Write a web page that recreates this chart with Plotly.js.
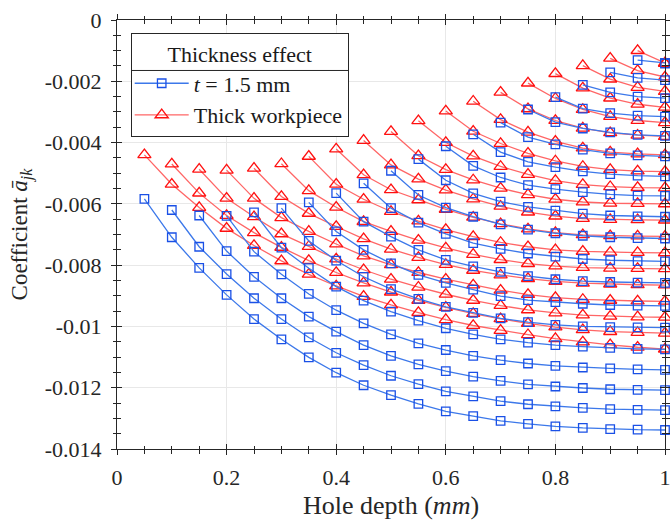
<!DOCTYPE html>
<html><head><meta charset="utf-8">
<script src="https://cdn.plot.ly/plotly-3.0.1.min.js"></script>
<style>html,body{margin:0;padding:0;background:#fff}#chart{width:670px;height:520px}</style>
</head><body><div id="chart"></div>
<script>
// Hole depth steps (mm)
const depth = [0.05,0.10,0.15,0.20,0.25,0.30,0.35,0.40,0.45,0.50,0.55,0.60,0.65,0.70,0.75,0.80,0.85,0.90,0.95,1.00];

// t = 1.5 mm  (curve k starts at depth step k)
const blue01 = [-0.00584,-0.00709,-0.00809,-0.00897,-0.00976,-0.01042,-0.01101,-0.01151,-0.01192,-0.01224,-0.01253,-0.01277,-0.01293,-0.01308,-0.01318,-0.01326,-0.01331,-0.01335,-0.01337,-0.01338];
const blue02 = [-0.00620,-0.00740,-0.00829,-0.00908,-0.00976,-0.01036,-0.01086,-0.01126,-0.01161,-0.01188,-0.01212,-0.01228,-0.01244,-0.01254,-0.01261,-0.01266,-0.01270,-0.01272,-0.01273];
const blue03 = [-0.00638,-0.00754,-0.00838,-0.00908,-0.00968,-0.01017,-0.01061,-0.01096,-0.01124,-0.01146,-0.01164,-0.01178,-0.01189,-0.01196,-0.01201,-0.01205,-0.01207,-0.01208];
const blue04 = [-0.00639,-0.00756,-0.00830,-0.00894,-0.00947,-0.00990,-0.01026,-0.01055,-0.01077,-0.01096,-0.01110,-0.01121,-0.01129,-0.01134,-0.01137,-0.01140,-0.01142];
const blue05 = [-0.00628,-0.00743,-0.00810,-0.00870,-0.00916,-0.00952,-0.00981,-0.01006,-0.01026,-0.01042,-0.01053,-0.01061,-0.01066,-0.01070,-0.01073,-0.01075];
const blue06 = [-0.00614,-0.00721,-0.00785,-0.00838,-0.00878,-0.00910,-0.00936,-0.00956,-0.00974,-0.00986,-0.00995,-0.01000,-0.01002,-0.01003,-0.01004];
const blue07 = [-0.00595,-0.00690,-0.00750,-0.00794,-0.00832,-0.00858,-0.00880,-0.00901,-0.00914,-0.00921,-0.00926,-0.00930,-0.00932,-0.00933];
const blue08 = [-0.00565,-0.00658,-0.00707,-0.00750,-0.00783,-0.00804,-0.00822,-0.00836,-0.00846,-0.00852,-0.00855,-0.00857,-0.00858];
const blue09 = [-0.00533,-0.00614,-0.00661,-0.00698,-0.00728,-0.00747,-0.00762,-0.00772,-0.00780,-0.00784,-0.00787,-0.00788];
const blue10 = [-0.00492,-0.00571,-0.00612,-0.00642,-0.00667,-0.00684,-0.00696,-0.00704,-0.00709,-0.00712,-0.00713];
const blue11 = [-0.00454,-0.00523,-0.00566,-0.00593,-0.00610,-0.00622,-0.00632,-0.00638,-0.00641,-0.00642];
const blue12 = [-0.00412,-0.00476,-0.00514,-0.00539,-0.00552,-0.00562,-0.00569,-0.00573,-0.00574];
const blue13 = [-0.00373,-0.00431,-0.00463,-0.00480,-0.00494,-0.00503,-0.00508,-0.00510];
const blue14 = [-0.00335,-0.00382,-0.00406,-0.00423,-0.00435,-0.00442,-0.00445];
const blue15 = [-0.00292,-0.00333,-0.00354,-0.00367,-0.00375,-0.00378];
const blue16 = [-0.00252,-0.00289,-0.00304,-0.00312,-0.00315];
const blue17 = [-0.00212,-0.00236,-0.00250,-0.00255];
const blue18 = [-0.00171,-0.00189,-0.00196];
const blue19 = [-0.00131,-0.00140];
const blue20 = [-0.00142];

// Thick workpiece
const red01 = [-0.00440,-0.00536,-0.00612,-0.00680,-0.00736,-0.00786,-0.00830,-0.00868,-0.00902,-0.00930,-0.00955,-0.00978,-0.00997,-0.01013,-0.01027,-0.01040,-0.01051,-0.01060,-0.01068,-0.01074];
const red02 = [-0.00470,-0.00565,-0.00638,-0.00694,-0.00742,-0.00785,-0.00824,-0.00858,-0.00888,-0.00915,-0.00938,-0.00958,-0.00975,-0.00990,-0.01002,-0.01011,-0.01017,-0.01020,-0.01022];
const red03 = [-0.00487,-0.00582,-0.00642,-0.00698,-0.00739,-0.00780,-0.00815,-0.00846,-0.00872,-0.00895,-0.00915,-0.00932,-0.00946,-0.00956,-0.00963,-0.00967,-0.00969,-0.00970];
const red04 = [-0.00490,-0.00582,-0.00645,-0.00690,-0.00731,-0.00770,-0.00799,-0.00824,-0.00846,-0.00865,-0.00882,-0.00896,-0.00906,-0.00912,-0.00915,-0.00917,-0.00918];
const red05 = [-0.00484,-0.00576,-0.00631,-0.00674,-0.00714,-0.00748,-0.00775,-0.00798,-0.00817,-0.00832,-0.00844,-0.00853,-0.00859,-0.00862,-0.00864,-0.00865];
const red06 = [-0.00469,-0.00557,-0.00611,-0.00658,-0.00690,-0.00719,-0.00744,-0.00765,-0.00782,-0.00795,-0.00803,-0.00808,-0.00810,-0.00811,-0.00812];
const red07 = [-0.00445,-0.00536,-0.00585,-0.00625,-0.00656,-0.00684,-0.00707,-0.00726,-0.00740,-0.00750,-0.00755,-0.00758,-0.00759,-0.00760];
const red08 = [-0.00421,-0.00505,-0.00554,-0.00587,-0.00618,-0.00644,-0.00665,-0.00682,-0.00694,-0.00701,-0.00704,-0.00705,-0.00706];
const red09 = [-0.00393,-0.00473,-0.00519,-0.00555,-0.00584,-0.00608,-0.00627,-0.00640,-0.00648,-0.00651,-0.00652,-0.00653];
const red10 = [-0.00364,-0.00443,-0.00488,-0.00522,-0.00549,-0.00570,-0.00585,-0.00594,-0.00598,-0.00599,-0.00600];
const red11 = [-0.00329,-0.00400,-0.00444,-0.00478,-0.00504,-0.00524,-0.00537,-0.00544,-0.00547,-0.00548];
const red12 = [-0.00297,-0.00363,-0.00403,-0.00435,-0.00460,-0.00478,-0.00488,-0.00493,-0.00495];
const red13 = [-0.00265,-0.00325,-0.00366,-0.00396,-0.00418,-0.00431,-0.00437,-0.00440];
const red14 = [-0.00236,-0.00290,-0.00328,-0.00353,-0.00368,-0.00376,-0.00380];
const red15 = [-0.00206,-0.00256,-0.00292,-0.00315,-0.00328,-0.00335];
const red16 = [-0.00175,-0.00222,-0.00255,-0.00275,-0.00285];
const red17 = [-0.00149,-0.00193,-0.00220,-0.00233];
const red18 = [-0.00125,-0.00165,-0.00186];
const red19 = [-0.00100,-0.00140];
const red20 = [-0.00142];

const xTickVals = [0, 0.2, 0.4, 0.6, 0.8, 1];
const xTickText = ['0', '0.2', '0.4', '0.6', '0.8', '1'];
const yTickVals = [0, -0.002, -0.004, -0.006, -0.008, -0.01, -0.012, -0.014];
const yTickText = ['0', '-0.002', '-0.004', '-0.006', '-0.008', '-0.01', '-0.012', '-0.014'];

const blueSeries = [blue01,blue02,blue03,blue04,blue05,blue06,blue07,blue08,blue09,blue10,
                    blue11,blue12,blue13,blue14,blue15,blue16,blue17,blue18,blue19,blue20];
const redSeries = [red01,red02,red03,red04,red05,red06,red07,red08,red09,red10,
                   red11,red12,red13,red14,red15,red16,red17,red18,red19,red20];

const FONT = 'Liberation Serif, Times New Roman, serif';
const INK = '#262626';
const BLUE_M = '#1a50e6', BLUE_L = '#3c78ea';
const RED_M = '#ff1010', RED_L = '#ff6666';

const traces = [];
for (let i = 0; i < 20; i++) {
  traces.push({
    type: 'scatter', mode: 'lines+markers',
    x: depth.slice(i), y: redSeries[i],
    name: 'Thick workpiece', legendgroup: 'thick', showlegend: i === 0, legendrank: 2,
    line: {color: RED_L, width: 1.3},
    marker: {symbol: 'triangle-up-open', size: 11.5, color: RED_M, line: {width: 1.3, color: RED_M}},
    cliponaxis: false, hoverinfo: 'skip'
  });
  traces.push({
    type: 'scatter', mode: 'lines+markers',
    x: depth.slice(i), y: blueSeries[i],
    name: '<i>t</i> = 1.5 mm', legendgroup: 'thin', showlegend: i === 0, legendrank: 1,
    line: {color: BLUE_L, width: 1.3},
    marker: {symbol: 'square-open', size: 8.5, color: BLUE_M, line: {width: 1.3, color: BLUE_M}},
    cliponaxis: false, hoverinfo: 'skip'
  });
}
// helper trace for the outer tick axes
traces.push({type: 'scatter', mode: 'markers', x: [null], y: [null], xaxis: 'x2', yaxis: 'y2',
             showlegend: false, hoverinfo: 'skip'});

const axisCommon = {
  showline: true, linecolor: INK, linewidth: 1, mirror: 'ticks',
  ticks: 'inside', ticklen: 5, tickwidth: 1, tickcolor: INK,
  showgrid: true, gridcolor: '#e8e8e8', gridwidth: 1, zeroline: false,
  ticklabeloverflow: 'allow',
  tickfont: {family: FONT, size: 22, color: INK}
};

const layout = {
  width: 670, height: 520,
  margin: {l: 117, r: 5, t: 20, b: 71},
  paper_bgcolor: '#ffffff', plot_bgcolor: '#ffffff',
  showlegend: true,
  xaxis: Object.assign({}, axisCommon, {
    range: [0, 1], tickmode: 'array', tickvals: xTickVals, ticktext: xTickText,
    minor: {dtick: 0.05, tick0: 0, ticks: 'inside', ticklen: 3.5, tickcolor: INK, showgrid: false},
    ticklabelstandoff: 9,
    title: {text: 'Hole depth (<i>mm</i>)', font: {family: FONT, size: 26, color: INK}, standoff: 10}
  }),
  yaxis: Object.assign({}, axisCommon, {
    range: [-0.014, 0], tickmode: 'array', tickvals: yTickVals, ticktext: yTickText,
    minor: {dtick: 0.0005, tick0: 0, ticks: 'inside', ticklen: 3.5, tickcolor: INK, showgrid: false},
    ticklabelstandoff: 10,
    title: {text: 'Coefficient <i>ā</i><sub><i>jk</i></sub>', font: {family: FONT, size: 23, color: INK}, standoff: 10}
  }),
  xaxis2: {overlaying: 'x', anchor: 'y2', range: [0, 1], tickmode: 'array', tickvals: xTickVals,
    showticklabels: false, ticks: 'outside', ticklen: 5, tickcolor: INK, mirror: 'ticks',
    showline: false, showgrid: false, zeroline: false,
    minor: {dtick: 0.05, tick0: 0, ticks: 'outside', ticklen: 3.5, tickcolor: INK, showgrid: false}},
  yaxis2: {overlaying: 'y', anchor: 'x2', range: [-0.014, 0], tickmode: 'array', tickvals: yTickVals,
    showticklabels: false, ticks: 'outside', ticklen: 5, tickcolor: INK, mirror: 'ticks',
    showline: false, showgrid: false, zeroline: false,
    minor: {dtick: 0.0005, tick0: 0, ticks: 'outside', ticklen: 3.5, tickcolor: INK, showgrid: false}},
  legend: {
    x: 0.025, y: 0.97, xanchor: 'left', yanchor: 'top',
    bgcolor: 'rgba(255,255,255,0)', bordercolor: INK, borderwidth: 1,
    font: {family: FONT, size: 22, color: '#1a1a1a'},
    title: {text: 'Thickness effect', side: 'top center', font: {family: FONT, size: 22, color: '#1a1a1a'}},
    traceorder: 'normal', tracegroupgap: 0, itemwidth: 52
  }
};

function stretchLegendSymbols(gd) {
  gd.querySelectorAll('.legend .legendlines path').forEach(function (p) { p.setAttribute('d', 'M3,0h54'); });
  gd.querySelectorAll('.legend .legendpoints path').forEach(function (p) { p.setAttribute('transform', 'translate(30,0)'); });
}

Plotly.newPlot('chart', traces, layout, {staticPlot: true, displayModeBar: false}).then(function (gd) {
  const bg = gd.querySelector('.legend .bg');
  const ttl = gd.querySelector('.legend .legendtitletext');
  if (!bg || !ttl) { stretchLegendSymbols(gd); return; }
  const g = gd.getBoundingClientRect();
  const b = bg.getBoundingClientRect();
  const t = ttl.getBoundingClientRect();
  const s = gd._fullLayout._size;
  const toX = function (px) { return (px - g.left - s.l) / s.w; };
  const toY = function (py) { return 1 - (py - g.top - s.t) / s.h; };
  const ySep = toY(t.bottom + 3);
  return Plotly.relayout(gd, {shapes: [
    {type: 'rect', xref: 'paper', yref: 'paper', layer: 'above',
     x0: toX(b.left), x1: toX(b.right), y0: toY(b.bottom), y1: toY(b.top),
     fillcolor: '#ffffff', line: {width: 0}},
    {type: 'line', xref: 'paper', yref: 'paper', layer: 'above',
     x0: toX(b.left), x1: toX(b.right), y0: ySep, y1: ySep, line: {color: INK, width: 1}}
  ]}).then(function () { stretchLegendSymbols(gd); });
});
</script>
</body></html>
